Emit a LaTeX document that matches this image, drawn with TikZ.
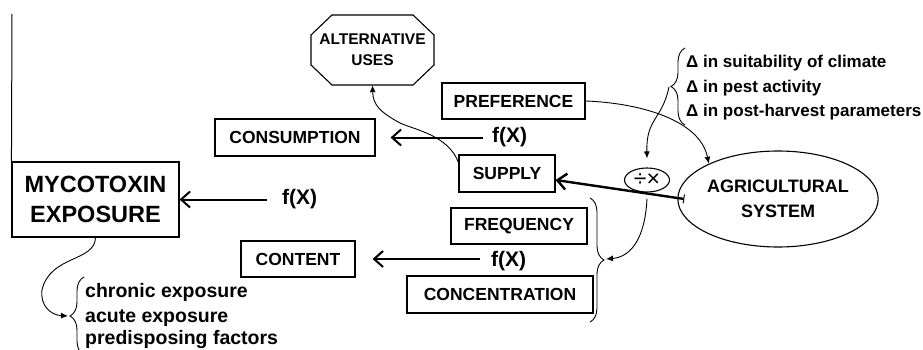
\documentclass[tikz,border=0pt]{standalone}
\usepackage{fontspec}
\setmainfont{Liberation Sans}
\usetikzlibrary{arrows.meta,shapes.geometric,decorations.pathreplacing}
\begin{document}
\begin{tikzpicture}[x=1pt,y=-1pt,
  box/.style={draw,line width=1.1pt,inner sep=0pt,font=\bfseries\fontsize{17.5}{20}\selectfont},
  fx/.style={inner sep=0pt,anchor=west,font=\bfseries\fontsize{21}{22}\selectfont},
  barb/.style={line width=2pt,-{Straight Barb[length=9pt,width=16pt]}},
  thin/.style={line width=0.9pt,-{Latex[length=7pt,width=6pt]}},
  lst/.style={anchor=base west,inner sep=0pt,font=\bfseries\fontsize{17}{20}\selectfont},
  lstb/.style={lst,font=\bfseries\fontsize{19.5}{20}\selectfont},
  brc/.style={decorate,decoration={brace,amplitude=14pt},line width=0.9pt}
]
\useasboundingbox (0,0) rectangle (923,350);

% boxes
\node[box,minimum width=167pt,minimum height=75pt,align=center,font=\bfseries\fontsize{23.5}{30}\selectfont] (myco) at (95.5,199.5) {MYCOTOXIN\\EXPOSURE};
\node[box,minimum width=160pt,minimum height=37pt] (cons) at (295,137.5) {CONSUMPTION};
\node[box,minimum width=114pt,minimum height=36pt] (cont) at (298,259) {CONTENT};
\node[box,minimum width=96pt,minimum height=37pt] (supply) at (507,173.5) {SUPPLY};
\node[box,minimum width=143pt,minimum height=36pt] (pref) at (513.5,101) {PREFERENCE};
\node[box,minimum width=136pt,minimum height=36pt] (freq) at (519,226) {FREQUENCY};
\node[box,minimum width=186pt,minimum height=37pt] (conc) at (500,294.5) {CONCENTRATION};

% octagon
\node[inner sep=0pt,minimum width=123pt,minimum height=70pt,align=center,font=\bfseries\fontsize{15.5}{21}\selectfont] (alt) at (372.5,50) {ALTERNATIVE\\USES};
\draw[line width=1.1pt] (332,15) -- (413,15) -- (434,35) -- (434,65) -- (413,85) -- (332,85) -- (311,65) -- (311,35) -- cycle;

% ellipses
\node[draw,ellipse,line width=1.1pt,inner sep=0pt,minimum width=184pt,minimum height=96pt,align=center,font=\bfseries\fontsize{18}{25}\selectfont] (agri) at (778,199) {AGRICULTURAL\\SYSTEM};
\node[draw,ellipse,line width=1.1pt,inner sep=0pt,minimum width=45pt,minimum height=24pt,font=\fontsize{23}{24}\selectfont] (div) at (647,180) {÷×};

% f(X) labels
\node[fx] (fx1) at (282,199) {f(X)};
\node[fx] (fx2) at (492,137) {f(X)};
\node[fx] (fx3) at (491,261) {f(X)};
\draw[barb,shorten <=15pt] (fx1.west |- myco.east) -- (myco.east);
\draw[barb,shorten <=9pt,shorten >=15pt] (fx2.west |- cons.east) -- (cons.east);
\draw[barb,shorten <=11pt,shorten >=17pt] (fx3.west |- cont.east) -- (cont.east);

% lists
\node[lst] (d1) at (686,68) {Δ in suitability of climate};
\node[lst] (d2) at (686,93) {Δ in pest activity};
\node[lst] (d3) at (686,117) {Δ in post-harvest parameters};
\node[lstb] (e1) at (85,297) {chronic exposure};
\node[lstb] (e2) at (85,322) {acute exposure};
\node[lstb] (e3) at (85,344) {predisposing factors};

% braces
\draw[brc] (685,125) -- (685,48);
\coordinate (bt3) at (669,87);
\draw[brc] (590,198) -- (590,322);
\coordinate (bt2) at (606,259);
\draw[brc] (84,355) -- (84,277);
\coordinate (bt1) at (68,316);

% left vertical line
\coordinate (vtop) at (12,14);
\draw[line width=1pt] (vtop) -- (myco.north west);

% connectors
\draw[thin] (bt3) .. controls (662,120) and (646,118) .. ([yshift=9pt]div.north);
\draw[thin] (pref.east) .. controls (640,103) and (700,120) .. (agri.153);
\draw[line width=2.4pt,{Bar[width=9pt,line width=1pt]}-{Straight Barb[length=9pt,width=16pt]}] ([xshift=7pt]agri.west) -- ([yshift=-6.5pt]supply.east);
\draw[thin] ([yshift=-6pt]div.south) .. controls (645,240) and (630,257) .. (bt2);
\draw[thin] (myco.south) .. controls (95,262) and (50,255) .. (42,290) .. controls (40,305) and (50,315) .. (bt1);
\draw[thin] ([yshift=-8pt]supply.north west) .. controls (448,135) and (415,130) .. (400,123) .. controls (380,112) and (373,105) .. (alt.south);
\end{tikzpicture}
\end{document}
